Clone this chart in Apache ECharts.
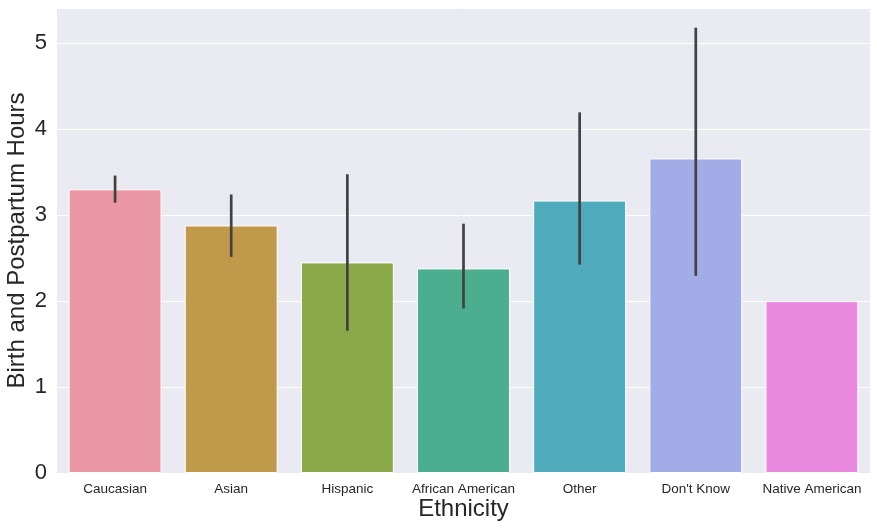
<!DOCTYPE html>
<html>
<head>
<meta charset="utf-8">
<script src="https://cdn.jsdelivr.net/npm/echarts@6/dist/echarts.min.js"></script>
<style>
html,body{margin:0;padding:0;background:#fff;}
#chart{width:877px;height:529px;}
</style>
</head>
<body>
<div id="chart"></div>
<script>
const categories = ['Caucasian', 'Asian', 'Hispanic', 'African American', 'Other', "Don't Know", 'Native American'];
const meanHours = [3.30, 2.88, 2.45, 2.38, 3.17, 3.66, 2.00];
const ciLow = [3.16, 2.53, 1.67, 1.93, 2.44, 2.31, null];
const ciHigh = [3.445, 3.225, 3.46, 2.885, 4.18, 5.165, null];
const barColors = ['#ea96a3', '#c0994b', '#8aa948', '#4bae8f', '#4fabbb', '#a2ade8', '#e98ae0'];
const yTicks = [0, 1, 2, 3, 4, 5];

const font = '"Liberation Sans", Arial, sans-serif';
const chart = echarts.init(document.getElementById('chart'), null, {renderer: 'canvas'});

const errData = categories.map((c, i) => [i, ciLow[i], ciHigh[i]]);

chart.setOption({
  backgroundColor: '#ffffff',
  animation: false,
  grid: {
    left: 57, right: 7, top: 8, bottom: 56,
    containLabel: false,
    outerBoundsMode: 'none',
    show: true, backgroundColor: '#eaeaf2', borderWidth: 0
  },
  xAxis: {
    type: 'category',
    data: categories,
    name: 'Ethnicity',
    nameLocation: 'middle',
    nameGap: 24,
    nameMoveOverlap: false,
    nameTextStyle: {fontFamily: font, fontSize: 24, color: '#262626'},
    axisLine: {show: false},
    axisTick: {show: false},
    axisLabel: {fontFamily: font, fontSize: 13.5, color: '#262626', margin: 9, interval: 0},
    splitLine: {show: false}
  },
  yAxis: {
    type: 'value',
    min: 0,
    max: 5.41,
    interval: 1,
    name: 'Birth and Postpartum Hours',
    nameLocation: 'middle',
    nameGap: 28,
    nameMoveOverlap: false,
    nameTextStyle: {fontFamily: font, fontSize: 24, color: '#262626'},
    axisLine: {show: false},
    axisTick: {show: false},
    axisLabel: {
      fontFamily: font, fontSize: 22, color: '#262626', margin: 10,
      showMaxLabel: false,
      formatter: v => (yTicks.indexOf(v) >= 0 ? String(v) : '')
    },
    splitLine: {show: true, lineStyle: {color: '#ffffff', width: 1}}
  },
  series: [
    {
      type: 'bar',
      data: meanHours.map((v, i) => ({value: v, itemStyle: {color: barColors[i]}})),
      barWidth: '80%',
      itemStyle: {borderColor: '#ffffff', borderWidth: 1},
      z: 2
    },
    {
      type: 'custom',
      data: errData,
      z: 5,
      renderItem: function (params, api) {
        const lo = api.value(1), hi = api.value(2);
        if (lo == null || hi == null || isNaN(lo) || isNaN(hi)) return null;
        const p1 = api.coord([api.value(0), lo]);
        const p2 = api.coord([api.value(0), hi]);
        return {
          type: 'line',
          shape: {x1: p1[0], y1: p1[1], x2: p2[0], y2: p2[1]},
          style: {stroke: '#424242', lineWidth: 2.7, lineCap: 'square'}
        };
      }
    }
  ]
});
</script>
</body>
</html>
